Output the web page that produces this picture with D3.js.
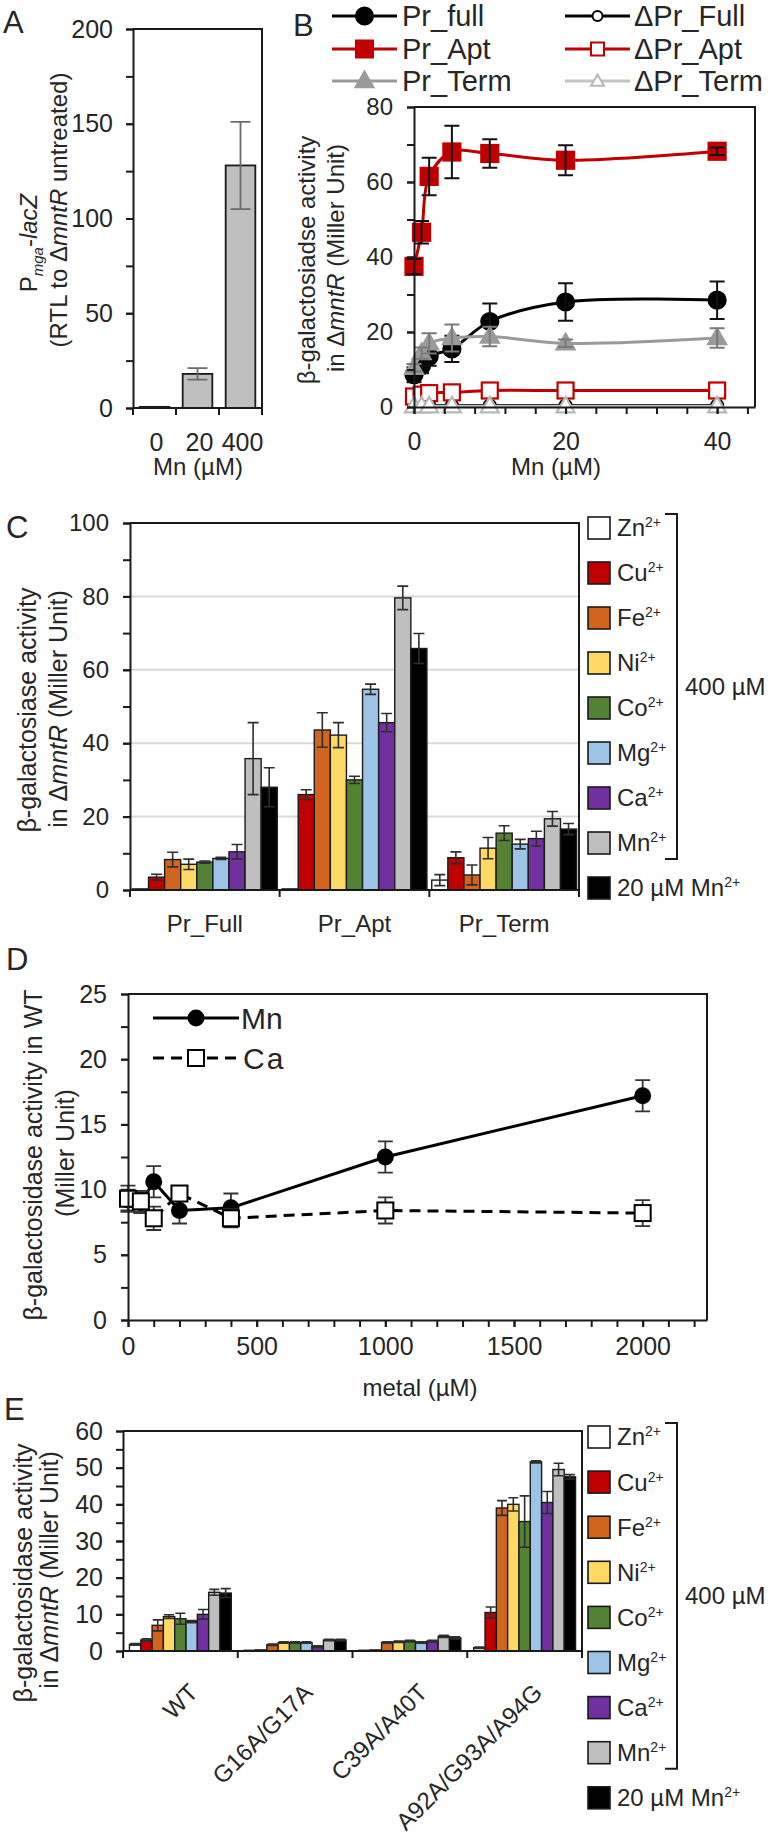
<!DOCTYPE html>
<html>
<head>
<meta charset="utf-8">
<script src="https://cdn.jsdelivr.net/npm/d3@7"></script>
<style>
html,body{margin:0;padding:0;background:#fff;}
svg{display:block;}
</style>
</head>
<body>
<script>
// ================= DATA =================
// Panel A
const aCategories = ["0", "20", "400"];
const aValues = [0.6, 18, 128];
const aErrors = [0, 3, 23];
const aYTicks = [0, 50, 100, 150, 200];

// Panel B
const bDose = [0, 1, 2, 5, 10, 20, 40];
const bPrFull = [8.6, 11, 13.5, 15.5, 22.8, 28, 28.5];
const bPrFullErr = [2, 2, 2.5, 3.5, 4.8, 5, 5];
const bDPrFull = [0.4, 0.4, 0.4, 0.4, 0.4, 0.4, 0.4];
const bPrApt = [37.5, 46.6, 61.5, 68, 67.6, 65.8, 68.2];
const bPrAptErr = [2, 3, 5, 7, 3.8, 4, 1];
const bDPrApt = [2.8, 3.3, 3.7, 3.9, 4.4, 4.4, 4.4];
const bPrTerm = [10.5, 14.4, 17, 18.4, 18.8, 17, 18.4];
const bPrTermErr = [1, 1.5, 2.7, 3.6, 2.6, 1, 2.6];
const bDPrTerm = [0.2, 0.2, 0.2, 0.2, 0.2, 0.2, 0.2];
const bSeriesNames = ["Pr_full", "ΔPr_Full", "Pr_Apt", "ΔPr_Apt", "Pr_Term", "ΔPr_Term"];
const bXTicks = [0, 20, 40];
const bYTicks = [0, 20, 40, 60, 80];

// Panels C and E: metal treatments
const metals = ["Zn", "Cu", "Fe", "Ni", "Co", "Mg", "Ca", "Mn", "20 µM Mn"];

// Panel C
const cGroups = ["Pr_Full", "Pr_Apt", "Pr_Term"];
const cPrFull = [0.3, 3.5, 8.3, 7.0, 7.6, 8.6, 10.4, 35.8, 28.0];
const cPrFullErr = [0, 0.8, 2.0, 1.4, 0.3, 0.3, 2.0, 9.8, 5.3];
const cPrApt = [0.3, 26.0, 43.6, 42.2, 30.0, 54.7, 45.6, 79.6, 65.8];
const cPrAptErr = [0, 1.3, 4.7, 3.4, 1.0, 1.4, 2.5, 3.2, 4.1];
const cPrTerm = [2.7, 8.8, 4.1, 11.4, 15.5, 12.5, 14.0, 19.4, 16.6];
const cPrTermErr = [1.5, 1.6, 2.7, 2.9, 2.0, 1.3, 2.0, 2.0, 1.5];
const cYTicks = [0, 20, 40, 60, 80, 100];

// Panel D
const dMetal = [0, 50, 100, 200, 400, 1000, 2000];
const dMn = [9.2, 9.0, 10.6, 8.4, 8.6, 12.5, 17.2];
const dMnErr = [0.8, 0.8, 1.2, 1.0, 1.1, 1.2, 1.2];
const dCa = [9.3, 9.1, 7.8, 9.7, 7.8, 8.4, 8.2];
const dCaErr = [1.0, 0.8, 0.9, 0.5, 0.7, 1.0, 1.0];
const dXTicks = [0, 500, 1000, 1500, 2000];
const dYTicks = [0, 5, 10, 15, 20, 25];

// Panel E
const eGroups = ["WT", "G16A/G17A", "C39A/A40T", "A92A/G93A/A94G"];
const eWT = [1.8, 3.0, 7.0, 9.4, 8.8, 8.0, 10.0, 16.0, 15.8];
const eWTErr = [0.2, 0.3, 1.5, 0.5, 1.5, 0.3, 1.3, 0.8, 1.2];
const eG16 = [0.2, 0.3, 1.7, 2.3, 2.3, 2.3, 1.2, 3.0, 3.0];
const eG16Err = [0, 0, 0.2, 0.2, 0.2, 0.2, 0.2, 0.2, 0.2];
const eC39 = [0.2, 0.3, 2.3, 2.5, 2.7, 2.3, 2.7, 4.0, 3.6];
const eC39Err = [0, 0, 0.2, 0.2, 0.2, 0.2, 0.2, 0.3, 0.3];
const eA92 = [0.9, 10.5, 39.0, 40.0, 35.3, 51.6, 40.5, 49.5, 47.5];
const eA92Err = [0.2, 1.5, 2.0, 1.8, 7.0, 0.3, 3.0, 1.7, 0.6];
const eYTicks = [0, 10, 20, 30, 40, 50, 60];

// ================= STYLE =================
const metalColors = ["#ffffff", "#c00000", "#d2651e", "#ffd966", "#548235", "#9dc3e6", "#7030a0", "#bfbfbf", "#000000"];
const FONT = '"Liberation Sans", Arial, Helvetica, sans-serif';
const INK = "#1a1a1a", TXT = "#262626";

const svg = d3.select("body").append("svg")
  .attr("width", 775).attr("height", 1835).attr("font-family", FONT);
svg.append("rect").attr("width", 775).attr("height", 1835).attr("fill", "#fff");

// ================= HELPERS =================
function label(x, y, str, fs, anchor) {
  return svg.append("text").attr("x", x).attr("y", y).attr("dy", "0.35em")
    .attr("font-size", fs).attr("fill", TXT).attr("text-anchor", anchor || "start").text(str);
}
function panelLetter(x, y, s) {
  svg.append("text").attr("x", x).attr("y", y).attr("font-size", 31).attr("fill", TXT).text(s);
}
function styleAxis(g, fs) {
  g.selectAll("path,line").attr("stroke", INK).attr("stroke-width", 2);
  g.selectAll("text").attr("font-size", fs).attr("fill", TXT).attr("font-family", FONT);
}
function yAxis(scale, x, majors, minorStep, fs, pad) {
  const dom = scale.domain();
  const minors = d3.range(dom[0], dom[1] + minorStep / 2, minorStep);
  const gm = svg.append("g").attr("transform", `translate(${x},0)`)
    .call(d3.axisLeft(scale).tickValues(minors).tickSize(7).tickSizeOuter(0).tickFormat(""));
  styleAxis(gm, fs);
  const gM = svg.append("g").attr("transform", `translate(${x},0)`)
    .call(d3.axisLeft(scale).tickValues(majors).tickSize(7).tickPadding(pad).tickFormat(d3.format("d")));
  gM.select(".domain").remove();
  styleAxis(gM, fs);
}
function xAxisLinear(scale, y, majors, minorStep, maxMinor, fs, pad) {
  const minors = d3.range(0, maxMinor + minorStep / 2, minorStep);
  const gm = svg.append("g").attr("transform", `translate(0,${y})`)
    .call(d3.axisBottom(scale).tickValues(minors).tickSize(7).tickSizeOuter(0).tickFormat(""));
  styleAxis(gm, fs);
  const gM = svg.append("g").attr("transform", `translate(0,${y})`)
    .call(d3.axisBottom(scale).tickValues(majors).tickSize(7).tickPadding(pad).tickFormat(d3.format("d")));
  gM.select(".domain").remove();
  styleAxis(gM, fs);
}
function frame(x0, x1, y0, y1) {
  svg.append("path").attr("d", `M${x0},${y0}H${x1}V${y1}`)
    .attr("fill", "none").attr("stroke", INK).attr("stroke-width", 2);
}
function bandBaseAxis(x0, y) {
  const r = x0.range();
  svg.append("line").attr("x1", r[0]).attr("x2", r[1]).attr("y1", y).attr("y2", y)
    .attr("stroke", INK).attr("stroke-width", 2);
  const bounds = d3.range(x0.domain().length + 1).map(i => r[0] + x0.paddingOuter() * x0.step() - x0.paddingInner() * x0.step() / 2 + i * x0.step());
  svg.append("g").selectAll("line").data(bounds).join("line")
    .attr("x1", d => d).attr("x2", d => d).attr("y1", y).attr("y2", y + 7)
    .attr("stroke", INK).attr("stroke-width", 2);
}
function errBars(rows, xf, yScale, cap, color, w) {
  const g = svg.append("g").attr("stroke", color).attr("stroke-width", w).attr("fill", "none");
  rows.filter(d => d.e > 0).forEach(d => {
    const x = xf(d), yt = yScale(d.v + d.e), yb = yScale(Math.max(0, d.v - d.e));
    g.append("path").attr("d", `M${x},${yb}V${yt}M${x - cap / 2},${yt}H${x + cap / 2}M${x - cap / 2},${yb}H${x + cap / 2}`);
  });
}
function yTitle(bx, cy, parts, fs) {
  const t = svg.append("text").attr("transform", `translate(${bx},${cy}) rotate(-90)`)
    .attr("text-anchor", "middle").attr("font-size", fs).attr("fill", TXT);
  parts.forEach(p => {
    const s = t.append("tspan").text(p.t);
    if (p.i) s.attr("font-style", "italic");
    if (p.fs) s.attr("font-size", p.fs);
    if (p.dy) s.attr("dy", p.dy);
  });
}
function marker(g, type, cx, cy, size, fill, stroke, sw) {
  let m;
  if (type === "circle") m = g.append("circle").attr("cx", cx).attr("cy", cy).attr("r", size);
  else if (type === "square") m = g.append("rect").attr("x", cx - size / 2).attr("y", cy - size / 2).attr("width", size).attr("height", size);
  else m = g.append("path").attr("transform", `translate(${cx},${cy + 1})`).attr("d", d3.symbol(d3.symbolTriangle, Math.sqrt(3) / 4 * size * size)());
  m.attr("fill", fill).attr("stroke", stroke).attr("stroke-width", sw);
}
function metalLegend(y0, step) {
  const g = svg.append("g");
  metals.forEach((m, i) => {
    const cy = y0 + i * step;
    g.append("rect").attr("x", 588).attr("y", cy - 11).attr("width", 22).attr("height", 22)
      .attr("fill", metalColors[i]).attr("stroke", INK).attr("stroke-width", 1.6);
    const t = g.append("text").attr("x", 617).attr("y", cy).attr("dy", "0.35em")
      .attr("font-size", 24).attr("fill", TXT);
    t.append("tspan").text(m);
    t.append("tspan").attr("font-size", 14).attr("dy", -9).text("2+");
  });
  const yTop = y0 - 14, yBot = y0 + 7 * step + 16;
  svg.append("path").attr("d", `M665,${yTop}H677V${yBot}H665`).attr("fill", "none")
    .attr("stroke", INK).attr("stroke-width", 2);
  label(685, (yTop + yBot) / 2, "400 µM", 24);
}
function groupedBars(groups, vals, errs, range, yScale, padOuter, cap) {
  const x0 = d3.scaleBand().domain(groups).range(range);
  const x1 = d3.scaleBand().domain(metals).range([0, x0.bandwidth()]).paddingOuter(padOuter);
  const rows = [];
  groups.forEach((gname, gi) => metals.forEach((m, mi) =>
    rows.push({ g: gname, m, mi, v: vals[gi][mi], e: errs[gi][mi] })));
  svg.append("g").selectAll("rect").data(rows).join("rect")
    .attr("x", d => x0(d.g) + x1(d.m)).attr("width", x1.bandwidth())
    .attr("y", d => yScale(d.v)).attr("height", d => yScale(0) - yScale(d.v))
    .attr("fill", d => metalColors[d.mi]).attr("stroke", INK).attr("stroke-width", 1.4);
  errBars(rows, d => x0(d.g) + x1(d.m) + x1.bandwidth() / 2, yScale, cap, "#2e2e2e", 1.6);
  return x0;
}

// ================= PANEL A =================
panelLetter(3, 33, "A");
const aX = d3.scaleBand().domain(aCategories).range([133, 262]).paddingInner(0.31).paddingOuter(0.155);
const aY = d3.scaleLinear().domain([0, 200]).range([408, 29]);
frame(133, 262, 29, 408);
svg.append("g").selectAll("rect").data(aCategories).join("rect")
  .attr("x", d => aX(d)).attr("width", aX.bandwidth())
  .attr("y", (d, i) => aY(aValues[i])).attr("height", (d, i) => aY(0) - aY(aValues[i]))
  .attr("fill", "#bfbfbf").attr("stroke", INK).attr("stroke-width", 1.8);
errBars(aCategories.map((c, i) => ({ c, v: aValues[i], e: aErrors[i] })),
  d => aX(d.c) + aX.bandwidth() / 2, aY, 20, "#6b6b6b", 1.8);
yAxis(aY, 133, aYTicks, 25, 25, 13);
bandBaseAxis(aX, 408);
aCategories.forEach(c => label(aX(c) + aX.bandwidth() / 2 + 2, 442, c, 25, "middle"));
label(198, 467, "Mn (µM)", 24, "middle");
yTitle(37, 243, [{ t: "P" }, { t: "mga", i: true, fs: 15, dy: 6 }, { t: "-", dy: -6 }, { t: "lacZ", i: true }], 24);
yTitle(67, 210, [{ t: "(RTL  to Δ" }, { t: "mntR", i: true }, { t: " untreated)" }], 24);

// ================= PANEL B =================
panelLetter(293, 36, "B");
const bX = d3.scaleLinear().domain([0, 45]).range([414, 755]);
const bY = d3.scaleLinear().domain([0, 80]).range([407, 107]);
frame(414, 755, 107, 407);
const bSeries = [
  { vals: bPrFull, errs: bPrFullErr, color: "#000", mk: "circle", fill: "#000", stroke: "#000", size: 8.5 },
  { vals: bDPrFull, errs: null, color: "#000", mk: "circle", fill: "#fff", stroke: "#000", size: 6 },
  { vals: bPrApt, errs: bPrAptErr, color: "#c00000", mk: "square", fill: "#c00000", stroke: "#c00000", size: 17 },
  { vals: bDPrApt, errs: null, color: "#c00000", mk: "square", fill: "#fff", stroke: "#c00000", size: 16 },
  { vals: bPrTerm, errs: bPrTermErr, color: "#9a9a9a", mk: "triangle", fill: "#9a9a9a", stroke: "#9a9a9a", size: 18 },
  { vals: bDPrTerm, errs: null, color: "#c4c4c4", mk: "triangle", fill: "#fff", stroke: "#b8b8b8", size: 18 }
];
bSeries.forEach(s => {
  const g = svg.append("g");
  if (s.errs) {
    errBars(bDose.map((x, i) => ({ x, v: s.vals[i], e: s.errs[i] })), d => bX(d.x), bY, 15,
      s.color === "#9a9a9a" ? "#7a7a7a" : "#111", 2);
  }
  const line = d3.line().x((d, i) => bX(bDose[i])).y(d => bY(d)).curve(d3.curveCatmullRom.alpha(0.5));
  g.append("path").attr("d", line(s.vals)).attr("fill", "none").attr("stroke", s.color).attr("stroke-width", 3);
  s.vals.forEach((v, i) => marker(g, s.mk, bX(bDose[i]), bY(v), s.size, s.fill, s.stroke, 2.2));
});
yAxis(bY, 414, bYTicks, 10, 24, 14);
xAxisLinear(bX, 407, bXTicks, 4, 44, 25, 18);
label(556, 467, "Mn (µM)", 24, "middle");
yTitle(315, 260, [{ t: "β-galactosiadse activity" }], 24);
yTitle(344, 258, [{ t: "in Δ" }, { t: "mntR", i: true }, { t: " (Miller Unit)" }], 24);
// legend B
const bLegCols = [[332, 397, 402], [565, 630, 634]];
const bLegRows = [16, 49, 81];
bSeriesNames.forEach((name, i) => {
  const col = bLegCols[i % 2], cy = bLegRows[Math.floor(i / 2)], s = bSeries[i];
  const g = svg.append("g");
  g.append("line").attr("x1", col[0]).attr("x2", col[1]).attr("y1", cy).attr("y2", cy)
    .attr("stroke", s.color).attr("stroke-width", 3);
  const sz = i % 2 === 1 ? (s.mk === "circle" ? 5 : 13) : s.size;
  marker(g, s.mk, (col[0] + col[1]) / 2, cy, sz, s.fill, s.stroke, 2);
  label(col[2], cy, name, 29);
});

// ================= PANEL C =================
panelLetter(6, 538, "C");
const cY = d3.scaleLinear().domain([0, 100]).range([890, 523]);
svg.append("g").selectAll("line").data(cYTicks.filter(v => v > 0 && v < 100)).join("line")
  .attr("x1", 130).attr("x2", 579).attr("y1", d => cY(d)).attr("y2", d => cY(d))
  .attr("stroke", "#d9d9d9").attr("stroke-width", 2);
frame(130, 579, 523, 890);
const cX0 = groupedBars(cGroups, [cPrFull, cPrApt, cPrTerm], [cPrFullErr, cPrAptErr, cPrTermErr],
  [130, 579], cY, 0.15, 11);
yAxis(cY, 130, cYTicks, 10, 24, 14);
bandBaseAxis(cX0, 890);
cGroups.forEach(gname => label(cX0(gname) + cX0.bandwidth() / 2, 924, gname, 24, "middle"));
yTitle(36, 710, [{ t: "β-galactosiase activity" }], 25);
yTitle(67, 709, [{ t: "in Δ" }, { t: "mntR", i: true }, { t: "  (Miller Unit)" }], 25);
metalLegend(528, 45);

// ================= PANEL D =================
panelLetter(6, 970, "D");
const dX = d3.scaleLinear().domain([0, 2250]).range([128, 707]);
const dY = d3.scaleLinear().domain([0, 25]).range([1320, 994]);
frame(128, 707, 994, 1320);
const dLine = d3.line().x((d, i) => dX(dMetal[i])).y(d => dY(d));
errBars(dMetal.map((x, i) => ({ x, v: dMn[i], e: dMnErr[i] })), d => dX(d.x), dY, 15, "#333", 1.8);
svg.append("path").attr("d", dLine(dMn)).attr("fill", "none").attr("stroke", "#000").attr("stroke-width", 3);
svg.append("g").selectAll("circle").data(dMn).join("circle")
  .attr("cx", (d, i) => dX(dMetal[i])).attr("cy", d => dY(d)).attr("r", 8.5).attr("fill", "#000");
errBars(dMetal.map((x, i) => ({ x, v: dCa[i], e: dCaErr[i] })), d => dX(d.x), dY, 15, "#333", 1.8);
svg.append("path").attr("d", dLine(dCa)).attr("fill", "none").attr("stroke", "#000")
  .attr("stroke-width", 3).attr("stroke-dasharray", "11,7");
svg.append("g").selectAll("rect").data(dCa).join("rect")
  .attr("x", (d, i) => dX(dMetal[i]) - 8).attr("y", d => dY(d) - 8).attr("width", 16).attr("height", 16)
  .attr("fill", "#fff").attr("stroke", "#000").attr("stroke-width", 2);
yAxis(dY, 128, dYTicks, 2.5, 25, 14);
xAxisLinear(dX, 1320, dXTicks, 100, 2200, 25, 10);
label(420, 1388, "metal (µM)", 24, "middle");
yTitle(42, 1155, [{ t: "β-galactosidase activity in WT" }], 25);
yTitle(74, 1153, [{ t: "(Miller Unit)" }], 25);
// legend D
svg.append("line").attr("x1", 153).attr("x2", 239).attr("y1", 1018).attr("y2", 1018).attr("stroke", "#000").attr("stroke-width", 3);
svg.append("circle").attr("cx", 196).attr("cy", 1018).attr("r", 8.5).attr("fill", "#000");
label(241, 1018, "Mn", 30);
svg.append("line").attr("x1", 153).attr("x2", 239).attr("y1", 1058).attr("y2", 1058).attr("stroke", "#000")
  .attr("stroke-width", 3).attr("stroke-dasharray", "11,7");
svg.append("rect").attr("x", 188).attr("y", 1050).attr("width", 16).attr("height", 16).attr("fill", "#fff").attr("stroke", "#000").attr("stroke-width", 2);
label(243, 1058, "Ca", 30).attr("letter-spacing", 2);

// ================= PANEL E =================
panelLetter(4, 1420, "E");
const eY = d3.scaleLinear().domain([0, 60]).range([1651, 1431]);
frame(123, 582, 1431, 1651);
const eX0 = groupedBars(eGroups, [eWT, eG16, eC39, eA92], [eWTErr, eG16Err, eC39Err, eA92Err],
  [123, 582], eY, 0.57, 10);
yAxis(eY, 123, eYTicks, 5, 25, 13);
bandBaseAxis(eX0, 1651);
eGroups.forEach(gname => {
  const cx = eX0(gname) + eX0.bandwidth() / 2;
  svg.append("text").attr("transform", `translate(${cx + 19},1694) rotate(-45)`)
    .attr("text-anchor", "end").attr("font-size", 24).attr("fill", TXT).text(gname);
});
yTitle(32, 1573, [{ t: "β-galactosidase activity" }], 25);
yTitle(58, 1570, [{ t: "in Δ" }, { t: "mntR", i: true }, { t: " (Miller Unit)" }], 25);
metalLegend(1437, 45.1);
</script>
</body>
</html>
